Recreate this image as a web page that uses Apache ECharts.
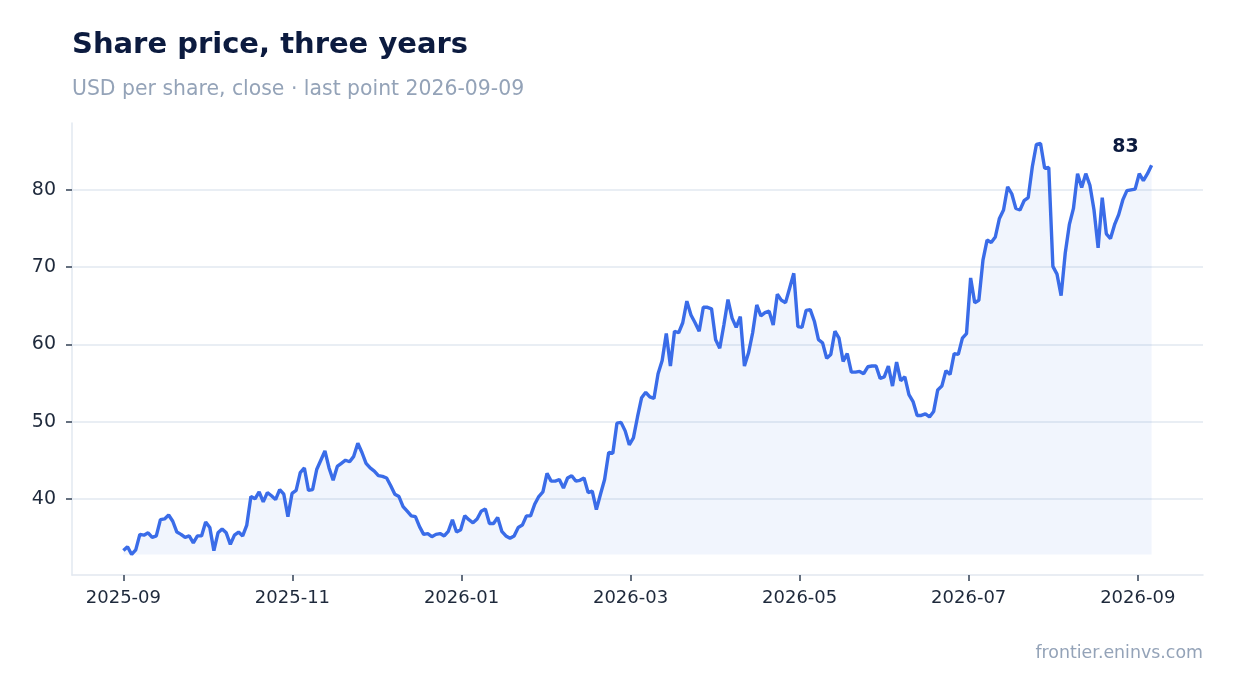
<!DOCTYPE html>
<html>
<head>
<meta charset="utf-8">
<title>Share price, three years</title>
<script src="https://cdn.jsdelivr.net/npm/echarts@6/dist/echarts.min.js"></script>
<style>
  html, body { margin: 0; padding: 0; background: #fff; }
  #chart { width: 1234px; height: 693px; }
</style>
</head>
<body>
<div id="chart"></div>
<script>
'use strict';

// closing price, USD per share, evenly spaced from firstDate to lastDate
var firstDate = '2025-09-01';
var lastDate = '2026-09-07';
var closes = [
  33.3, 33.8, 32.8, 33.4, 35.4, 35.3, 35.6, 35.0, 35.2, 37.3,
  37.4, 37.9, 37.1, 35.7, 35.4, 35.0, 35.2, 34.3, 35.2, 35.2,
  37.0, 36.3, 33.3, 35.6, 36.1, 35.6, 34.1, 35.3, 35.7, 35.2,
  36.6, 40.3, 40.0, 40.9, 39.6, 40.8, 40.4, 39.9, 41.2, 40.6,
  37.7, 40.7, 41.1, 43.4, 44.0, 41.1, 41.2, 43.8, 45.0, 46.2,
  44.0, 42.4, 44.2, 44.6, 45.0, 44.8, 45.5, 47.2, 46.0, 44.6,
  44.0, 43.6, 43.0, 42.9, 42.7, 41.7, 40.6, 40.3, 39.0, 38.4,
  37.8, 37.7, 36.4, 35.4, 35.5, 35.1, 35.4, 35.5, 35.2, 35.8,
  37.3, 35.7, 36.0, 37.8, 37.3, 36.9, 37.4, 38.4, 38.7, 36.8,
  36.8, 37.6, 35.8, 35.2, 34.9, 35.2, 36.3, 36.6, 37.8, 37.8,
  39.3, 40.3, 40.9, 43.3, 42.3, 42.3, 42.5, 41.4, 42.7, 43.0,
  42.3, 42.4, 42.7, 40.8, 41.0, 38.6, 40.6, 42.5, 46.0, 45.9,
  49.8, 49.9, 48.8, 47.0, 47.9, 50.6, 53.1, 53.8, 53.2, 53.0,
  56.2, 57.9, 61.4, 57.2, 61.7, 61.5, 62.8, 65.6, 63.8, 62.8,
  61.7, 64.8, 64.8, 64.6, 60.6, 59.5, 62.5, 65.8, 63.4, 62.2,
  63.6, 57.2, 58.9, 61.5, 65.1, 63.7, 64.1, 64.3, 62.5, 66.5,
  65.7, 65.4, 67.3, 69.2, 62.3, 62.2, 64.4, 64.5, 63.0, 60.6,
  60.2, 58.2, 58.7, 61.7, 60.8, 57.8, 58.8, 56.4, 56.4, 56.5,
  56.2, 57.1, 57.2, 57.2, 55.6, 55.8, 57.2, 54.6, 57.7, 55.3,
  55.8, 53.5, 52.6, 50.8, 50.8, 51.0, 50.6, 51.3, 54.1, 54.6,
  56.6, 56.1, 58.8, 58.7, 60.8, 61.4, 68.6, 65.4, 65.7, 70.9,
  73.5, 73.2, 73.9, 76.3, 77.4, 80.4, 79.5, 77.6, 77.4, 78.6,
  79.0, 83.0, 85.9, 86.0, 82.8, 82.9, 70.1, 69.1, 66.3, 71.8,
  75.5, 77.6, 82.1, 80.3, 82.1, 80.6, 77.4, 72.5, 79.0, 74.3,
  73.7, 75.5, 76.8, 78.7, 79.9, 80.0, 80.1, 82.1, 81.2, 82.1,
  83.2
];
// x ticks (spaced ~61 days apart, shown as year-month)
var monthTicks = ['2025-09-01', '2025-11-01', '2026-01-01', '2026-03-03', '2026-05-03', '2026-07-03', '2026-09-02'];
var priceTicks = [40, 50, 60, 70, 80];

var FONT = 'DejaVu Sans';
var INK = '#0c1b3f';
var MUTED = '#94a3b8';
var LINE = '#e2e8f0';
var BLUE = '#3a6ce8';

function toTime(s) {
  var p = s.split('-');
  return new Date(+p[0], +p[1] - 1, +p[2]).getTime();
}

//   dates spread evenly between the first and last point
var t0 = toTime(firstDate), t1 = toTime(lastDate);
var step = (t1 - t0) / (closes.length - 1);
var points = closes.map(function (v, i) {
  return [t0 + i * step, v];
});
var lastPoint = points[points.length - 1];
var lowest = Math.min.apply(null, closes);
var monthValues = monthTicks.map(toTime);

//   5% padding both sides, like the reference
function padMin(v) { return v.min - (v.max - v.min) * 0.05; }
function padMax(v) { return v.max + (v.max - v.min) * 0.05; }

var myChart = echarts.init(document.getElementById('chart'), null, { renderer: 'canvas' });

myChart.setOption({
  backgroundColor: '#ffffff',
  animation: false,
  textStyle: { fontFamily: FONT },
  title: [
    {
      text: 'Share price, three years',
      left: 72,
      top: 31,
      padding: 0,
      textStyle: { fontFamily: FONT, fontSize: 29, fontWeight: 'bold', color: INK }
    },
    {
      text: 'USD per share, close · last point 2026-09-09',
      left: 72,
      top: 80,
      padding: 0,
      textStyle: { fontFamily: FONT, fontSize: 20.4, fontWeight: 'normal', color: MUTED }
    },
    {
      text: 'frontier.eninvs.com',
      right: 31,
      top: 645,
      padding: 0,
      textStyle: { fontFamily: FONT, fontSize: 17.4, fontWeight: 'normal', color: MUTED }
    }
  ],
  grid: { left: 72, right: 31, top: 123, bottom: 118, containLabel: false },
  xAxis: {
    type: 'value',
    min: padMin,
    max: padMax,
    axisLine: { show: true, lineStyle: { color: LINE, width: 1.5 } },
    axisTick: {
      show: true,
      length: 6,
      lineStyle: { color: '#334155', width: 1.5 },
      customValues: monthValues
    },
    axisLabel: {
      customValues: monthValues,
      formatter: function (v) { return echarts.time.format(v, '{yyyy}-{MM}', false); },
      fontFamily: FONT,
      fontSize: 18,
      color: '#1e293b',
      margin: 14
    },
    splitLine: { show: false }
  },
  yAxis: {
    type: 'value',
    min: padMin,
    max: padMax,
    axisLine: { show: true, lineStyle: { color: LINE, width: 1.5 } },
    axisTick: {
      show: true,
      length: 6,
      lineStyle: { color: '#334155', width: 1.5 },
      customValues: priceTicks
    },
    axisLabel: {
      customValues: priceTicks,
      fontFamily: FONT,
      fontSize: 19,
      color: '#1e293b',
      margin: 16
    },
    splitLine: { show: false }
  },
  series: [
    {
      //   horizontal grid lines, kept under the price line
      type: 'line',
      data: [],
      silent: true,
      z: 1,
      markLine: {
        silent: true,
        z: 1,
        symbol: 'none',
        label: { show: false },
        lineStyle: { color: LINE, width: 1.5, type: 'solid' },
        data: priceTicks.map(function (v) { return { yAxis: v }; })
      }
    },
    {
      type: 'line',
      data: points,
      showSymbol: false,
      symbol: 'none',
      lineStyle: { color: BLUE, width: 3.4 },
      itemStyle: { color: BLUE },
      areaStyle: { color: 'rgba(58,108,232,0.1)', origin: lowest },
      //   last value above the end of the line
      markPoint: {
        silent: true,
        symbol: 'circle',
        symbolSize: 0,
        data: [{ coord: lastPoint, value: Math.round(lastPoint[1]) }],
        label: {
          show: true,
          position: 'top',
          distance: 0,
          offset: [-26, -9],
          formatter: '{c}',
          fontFamily: FONT,
          fontSize: 19,
          fontWeight: 'bold',
          color: INK
        }
      },
      z: 3
    }
  ]
});
</script>
</body>
</html>
